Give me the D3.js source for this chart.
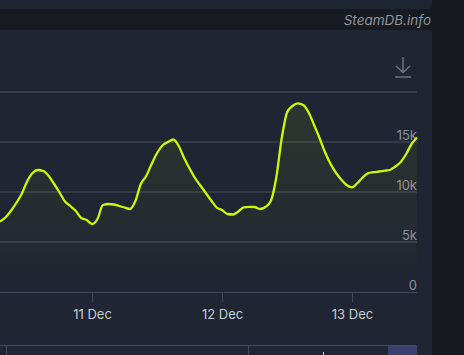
<!DOCTYPE html>
<html>
<head>
<meta charset="utf-8">
<script src="https://cdn.jsdelivr.net/npm/d3@7"></script>
<style>
  html, body { margin: 0; padding: 0; background: #16191f; }
  svg { display: block; font-family: Inter, "Noto Sans", sans-serif; }
</style>
</head>
<body>
<svg id="chart" width="464" height="355"></svg>
<script>
// hourly player counts, 10 Dec 07:00 -> 13 Dec 12:00 (UTC)
const startTime = "2023-12-10T07:00:00Z";
const players = [
  7050, 7450, 8100, 8900, 9800, 11050, 11900, 12200, 12100, 11600,
  10800, 9950, 9050, 8600, 8100, 7400, 7200, 6800, 7300, 8700,
  8800, 8750, 8600, 8450, 8300, 9100, 10800, 11600, 12800, 13900,
  14650, 15000, 15250, 14600, 13400, 12350, 11400, 10650, 9900, 9150,
  8450, 8200, 7800, 7750, 8050, 8470, 8520, 8500, 8300, 8500,
  9100, 11400, 15300, 17950, 18600, 18870, 18700, 17950, 16700, 15400,
  14000, 12850, 11950, 11250, 10700, 10470, 10900, 11470, 11880, 11980,
  12050, 12130, 12200, 12550, 13000, 13800, 14800, 15450
];
const yTicks = [0, 5000, 10000, 15000, 20000];
const yLabels = ["0", "5k", "10k", "15k", ""];
const xTicks = ["2023-12-11", "2023-12-12", "2023-12-13"];

const t0 = new Date(startTime);
const data = players.map((v, i) => ({ t: new Date(t0.getTime() + i * 3600e3), v: v }));

const svg = d3.select("#chart");

// background panels
svg.append("rect").attr("x", -10).attr("y", -10).attr("width", 442).attr("height", 19)
  .attr("rx", 4).style("fill", "#1f2532");
svg.append("rect").attr("x", 0).attr("y", 9).attr("width", 432).attr("height", 21)
  .style("fill", "#171a21");
svg.append("rect").attr("x", -10).attr("y", 30).attr("width", 442).attr("height", 340)
  .attr("rx", 4).style("fill", "#1f2532");

svg.append("text")
  .attr("x", 431).attr("y", 25)
  .attr("text-anchor", "end")
  .style("font-size", "13.5px")
  .style("font-style", "italic")
  .style("fill", "#8d959e")
  .text("SteamDB.info");

// scales
const x = d3.scaleUtc()
  .domain([data[0].t, data[data.length - 1].t])
  .range([0, 417]);
const y = d3.scaleLinear().domain([0, 20000]).range([292, 92]);

// gridlines + y labels
const grid = svg.append("g");
grid.selectAll("line").data(yTicks.slice(1)).join("line")
  .attr("x1", 0).attr("x2", 417)
  .attr("y1", d => y(d)).attr("y2", d => y(d))
  .style("stroke", "#4a505c").style("stroke-width", 1);
grid.selectAll("text").data(yTicks).join("text")
  .attr("x", 417).attr("y", d => y(d) - 2)
  .attr("text-anchor", "end")
  .style("font-size", "13px")
  .style("fill", "#8b929a")
  .text((d, i) => yLabels[i]);

// area + line
const defs = svg.append("defs");
const grad = defs.append("linearGradient").attr("id", "fillGrad")
  .attr("x1", 0).attr("y1", 0).attr("x2", 0).attr("y2", 1);
grad.append("stop").attr("offset", "0%").style("stop-color", "#cdf800").style("stop-opacity", 0.08);
grad.append("stop").attr("offset", "100%").style("stop-color", "#cdf800").style("stop-opacity", 0.0);

defs.append("clipPath").attr("id", "plotClip")
  .append("rect").attr("x", 0).attr("y", 40).attr("width", 418).attr("height", 260);

const plot = svg.append("g").attr("clip-path", "url(#plotClip)");

plot.append("path")
  .datum(data)
  .attr("d", d3.area().curve(d3.curveMonotoneX)
    .x(d => x(d.t)).y0(y(0)).y1(d => y(d.v)))
  .style("fill", "url(#fillGrad)");

plot.append("path")
  .datum(data)
  .attr("d", d3.line().curve(d3.curveMonotoneX)
    .x(d => x(d.t)).y(d => y(d.v)))
  .style("fill", "none")
  .style("stroke", "#cdf800")
  .style("stroke-width", 2.3)
  .style("stroke-linejoin", "round");

// x axis
const xAxis = svg.append("g").attr("transform", "translate(0,292.5)")
  .call(d3.axisBottom(x)
    .tickValues(xTicks.map(s => new Date(s + "T00:00:00Z")))
    .tickSize(10)
    .tickPadding(7)
    .tickFormat(d3.utcFormat("%-d %b")));
xAxis.select(".domain").attr("d", "M0,0H417").style("stroke", "#3d4b60");
xAxis.selectAll(".tick line").style("stroke", "#3d4b60");
xAxis.selectAll(".tick text")
  .style("font-family", "Inter, 'Noto Sans', sans-serif")
  .style("font-size", "13px")
  .style("fill", "#c5ccd4");

// download icon
const icon = svg.append("g").style("stroke", "#6c737c").style("stroke-width", 1.5).style("fill", "none");
icon.append("path").attr("d", "M403,57V72M396,66L403,72.5L410,66");
icon.append("path").attr("d", "M395,77H411");

// navigator strip
const nav = svg.append("g");
nav.append("rect").attr("x", 388).attr("y", 345).attr("width", 29).attr("height", 12)
  .style("fill", "#3a4070");
nav.append("path").attr("d", "M0,345.5H417M6.5,345V355M248.5,345V355")
  .style("stroke", "#3d4b60").style("fill", "none");
nav.append("path").attr("d", "M323.5,352V355")
  .style("stroke", "#cdf800").style("fill", "none");
</script>
</body>
</html>
